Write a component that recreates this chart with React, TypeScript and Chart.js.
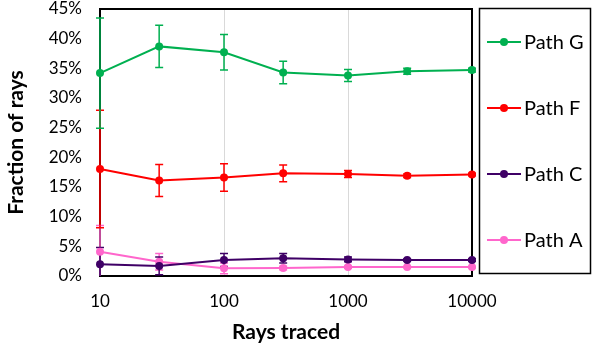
import React, { useEffect, useRef } from "react";
import { Chart, registerables } from "chart.js";

Chart.register(...registerables);

const raysTraced = [10, 30, 100, 300, 1000, 3000, 10000];
const xTickValues = [10, 100, 1000, 10000];
const seriesNames = ["Path G", "Path F", "Path C", "Path A"];
const pathG = [34.2, 38.7, 37.7, 34.3, 33.8, 34.5, 34.7];
const pathGErr = [9.3, 3.55, 3.0, 1.9, 1.0, 0.5, 0.3];
const pathF = [18.05, 16.1, 16.6, 17.3, 17.2, 16.9, 17.1];
const pathFErr = [9.9, 2.7, 2.3, 1.4, 0.6, 0.3, 0.2];
const pathC = [2.0, 1.7, 2.7, 3.0, 2.8, 2.7, 2.7];
const pathCErr = [2.8, 1.5, 1.1, 0.8, 0.4, 0.2, 0.2];
const pathA = [4.1, 2.4, 1.3, 1.35, 1.5, 1.5, 1.5];
const pathAErr = [4.4, 1.4, 0.9, 0.3, 0.2, 0.1, 0.1];
const seriesColors = ["#00B050", "#FF0000", "#3F0066", "#FF66CC"];

const seriesValues = [pathG, pathF, pathC, pathA];
const seriesErrors = [pathGErr, pathFErr, pathCErr, pathAErr];

const FONT = "Lato, 'Liberation Sans', sans-serif";

const customPlugin = {
  id: "customDraw",
  beforeDatasetsDraw(chart: any) {
    const { ctx, chartArea, scales } = chart;
    const { left, right, top, bottom } = chartArea;
    ctx.save();
    ctx.strokeStyle = "#000";
    ctx.lineWidth = 2;
    ctx.beginPath();
    ctx.moveTo(left, top);
    ctx.lineTo(right, top);
    ctx.lineTo(right, bottom);
    ctx.stroke();
    ctx.restore();

    ctx.save();
    ctx.beginPath();
    ctx.rect(left - 8, top, right - left + 16, bottom - top);
    ctx.clip();
    for (let i = seriesValues.length - 1; i >= 0; i--) {
      const vals = seriesValues[i];
      const errs = seriesErrors[i];
      ctx.strokeStyle = seriesColors[i];
      ctx.lineWidth = 1.5;
      vals.forEach((v, j) => {
        const x = scales.x.getPixelForValue(raysTraced[j]);
        const yT = scales.y.getPixelForValue(v + errs[j]);
        const yB = scales.y.getPixelForValue(v - errs[j]);
        ctx.beginPath();
        ctx.moveTo(x, yT);
        ctx.lineTo(x, yB);
        ctx.moveTo(x - 4, yT);
        ctx.lineTo(x + 4, yT);
        ctx.moveTo(x - 4, yB);
        ctx.lineTo(x + 4, yB);
        ctx.stroke();
      });
    }
    ctx.restore();
  },
  afterDraw(chart: any) {
    const { ctx } = chart;
    const bx = 479.5, by = 8.5, bw = 111, bh = 265;
    ctx.save();
    ctx.strokeStyle = "#000";
    ctx.lineWidth = 1.5;
    ctx.strokeRect(bx, by, bw, bh);
    ctx.font = `20px ${FONT}`;
    ctx.textBaseline = "middle";
    ctx.textAlign = "left";
    seriesNames.forEach((name, i) => {
      const cy = Math.round(by + (i + 0.5) * (bh / 4));
      ctx.strokeStyle = seriesColors[i];
      ctx.lineWidth = 2;
      ctx.beginPath();
      ctx.moveTo(487, cy);
      ctx.lineTo(521, cy);
      ctx.stroke();
      ctx.fillStyle = seriesColors[i];
      ctx.beginPath();
      ctx.arc(504, cy, 4, 0, Math.PI * 2);
      ctx.fill();
      ctx.fillStyle = "#000";
      ctx.fillText(name, 524, cy + 1);
    });
    ctx.restore();
  },
};

export default function App() {
  const ref = useRef<HTMLCanvasElement | null>(null);
  useEffect(() => {
    if (!ref.current) return;
    const chart = new Chart(ref.current, {
      type: "line",
      data: {
        datasets: seriesNames.map((name, i) => ({
          label: name,
          data: raysTraced.map((x, j) => ({ x, y: seriesValues[i][j] })),
          borderColor: seriesColors[i],
          backgroundColor: seriesColors[i],
          borderWidth: 2,
          pointRadius: 4,
          pointBorderWidth: 0,
          pointHoverRadius: 4,
          tension: 0,
          clip: 8,
          order: i,
        })),
      },
      plugins: [customPlugin],
      options: {
        responsive: false,
        animation: false,
        devicePixelRatio: 1,
        layout: { padding: { top: 9, right: 120, left: 0, bottom: 0 } },
        plugins: { legend: { display: false }, tooltip: { enabled: false } },
        scales: {
          x: {
            type: "logarithmic",
            min: 10,
            max: 10000,
            afterBuildTicks: (scale: any) => {
              scale.ticks = xTickValues.map((v) => ({ value: v }));
            },
            afterFit: (scale: any) => {
              scale.height = 73;
              scale.paddingLeft = 0;
              scale.paddingRight = 0;
            },
            grid: { display: true, color: "#D9D9D9", lineWidth: 1, drawTicks: false },
            border: { display: true, color: "#000", width: 2 },
            ticks: {
              color: "#000",
              font: { family: FONT, size: 17 },
              padding: 15,
              autoSkip: false,
              maxRotation: 0,
              callback: (v: any) => String(v),
            },
            title: {
              display: true,
              text: "Rays traced",
              color: "#000",
              font: { family: FONT, size: 21, weight: "bold" },
              padding: { top: 0, bottom: 4 },
            },
          },
          y: {
            type: "linear",
            min: 0,
            max: 45,
            afterFit: (scale: any) => {
              scale.width = 100;
              scale.paddingTop = 0;
              scale.paddingBottom = 0;
            },
            grid: { display: false, drawTicks: false },
            border: { display: true, color: "#000", width: 2 },
            ticks: {
              stepSize: 5,
              color: "#000",
              font: { family: FONT, size: 17 },
              padding: 18,
              callback: (v: any) => `${v}%`,
            },
            title: {
              display: true,
              text: "Fraction of rays",
              color: "#000",
              font: { family: FONT, size: 21, weight: "bold" },
              padding: { top: 4, bottom: 0 },
            },
          },
        },
      } as any,
    });
    return () => chart.destroy();
  }, []);
  return (
    <div style={{ position: "absolute", left: 0, top: 0, width: 592, height: 349 }}>
      <canvas ref={ref} width={592} height={349} />
    </div>
  );
}
